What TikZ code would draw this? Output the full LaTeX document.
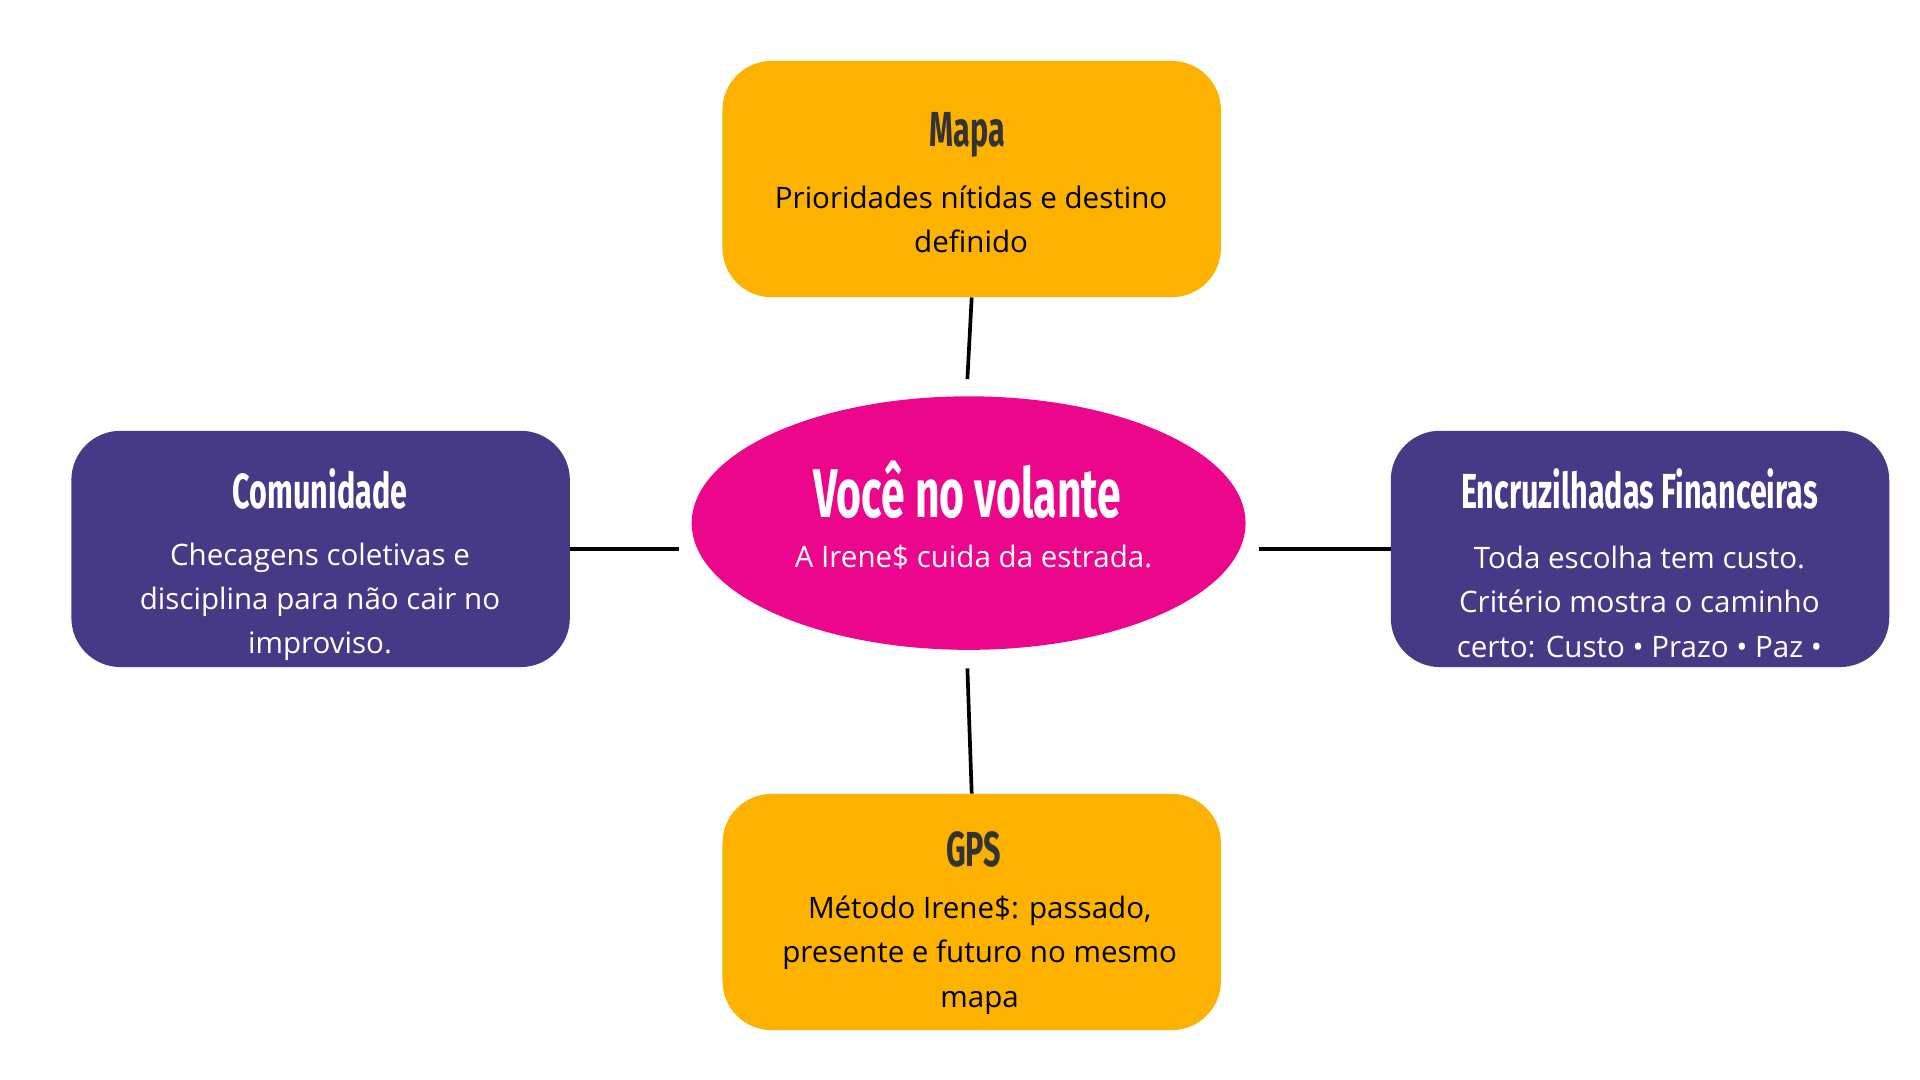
\documentclass[tikz,border=0pt]{standalone}
\usepackage{fontspec}
\setmainfont{Open Sans}
\newfontfamily\titlefont[FakeStretch=0.62]{Fira Sans Bold}
\usetikzlibrary{shapes.geometric}
\definecolor{orng}{HTML}{FDB200}
\definecolor{purp}{HTML}{463A86}
\definecolor{mag}{HTML}{EC068C}
\definecolor{dark}{HTML}{333333}
\tikzset{
 card/.style={rounded corners=40pt,minimum width=405pt,minimum height=192pt,inner sep=0pt},
 ttl/.style={font=\titlefont\fontsize{40}{44}\selectfont},
 bdy/.style={font=\fontsize{24}{36}\selectfont,align=center},
 conn/.style={line width=3pt,draw=black}
}
\begin{document}
\begin{tikzpicture}[x=1pt,y=-1pt]
\useasboundingbox[fill=white] (0,0) rectangle (1560,877.5);
\node[card,fill=orng] (mapa) at (789.5,145.5) {};
\node[card,fill=purp] (com) at (260.5,446) {};
\node[card,fill=purp] (enc) at (1332.5,446) {};
\node[card,fill=orng] (gps) at (789.5,741) {};
\node[ellipse,fill=mag,minimum width=450pt,minimum height=206pt,inner sep=0pt] (cen) at (787,425) {};
% texts
\node[ttl,text=dark] (mapaT) at (786,110) {Mapa};
\node[bdy,text=black] (mapaB) at (789,178) {Prioridades nítidas e destino\\definido};
\node[ttl,text=white] (comT) at (260,397) {Comunidade};
\node[bdy,text=white] (comB) at (260,489) {Checagens coletivas e\\disciplina para não cair no\\improviso.};
\node[ttl,text=white] (encT) at (1332,397) {Encruzilhadas Financeiras};
\node[bdy,text=white] (encB) at (1332,489) {Toda escolha tem custo.\\Critério mostra o caminho\\certo: Custo • Prazo • Paz •};
\node[ttl,text=dark] (gpsT) at (791,690) {GPS};
\node[bdy,text=black] (gpsB) at (796,776) {Método Irene\$: passado,\\presente e futuro no mesmo\\mapa};
\node[font=\titlefont\fontsize{56}{60}\selectfont,text=white] (cenT) at (786,398) {Você no volante};
\node[bdy,text=white] (cenB) at (791,453) {A Irene\$ cuida da estrada.};
% connectors
\coordinate (a1) at (786,308);
\coordinate (a2) at (786,543);
\coordinate (h1) at (552,446);
\coordinate (h2) at (1023,446);
\draw[conn] (mapa.south) -- (a1);
\draw[conn] (a2) -- (gps.north);
\draw[conn] (com.east) -- (h1);
\draw[conn] (h2) -- (enc.west);
\end{tikzpicture}
\end{document}
